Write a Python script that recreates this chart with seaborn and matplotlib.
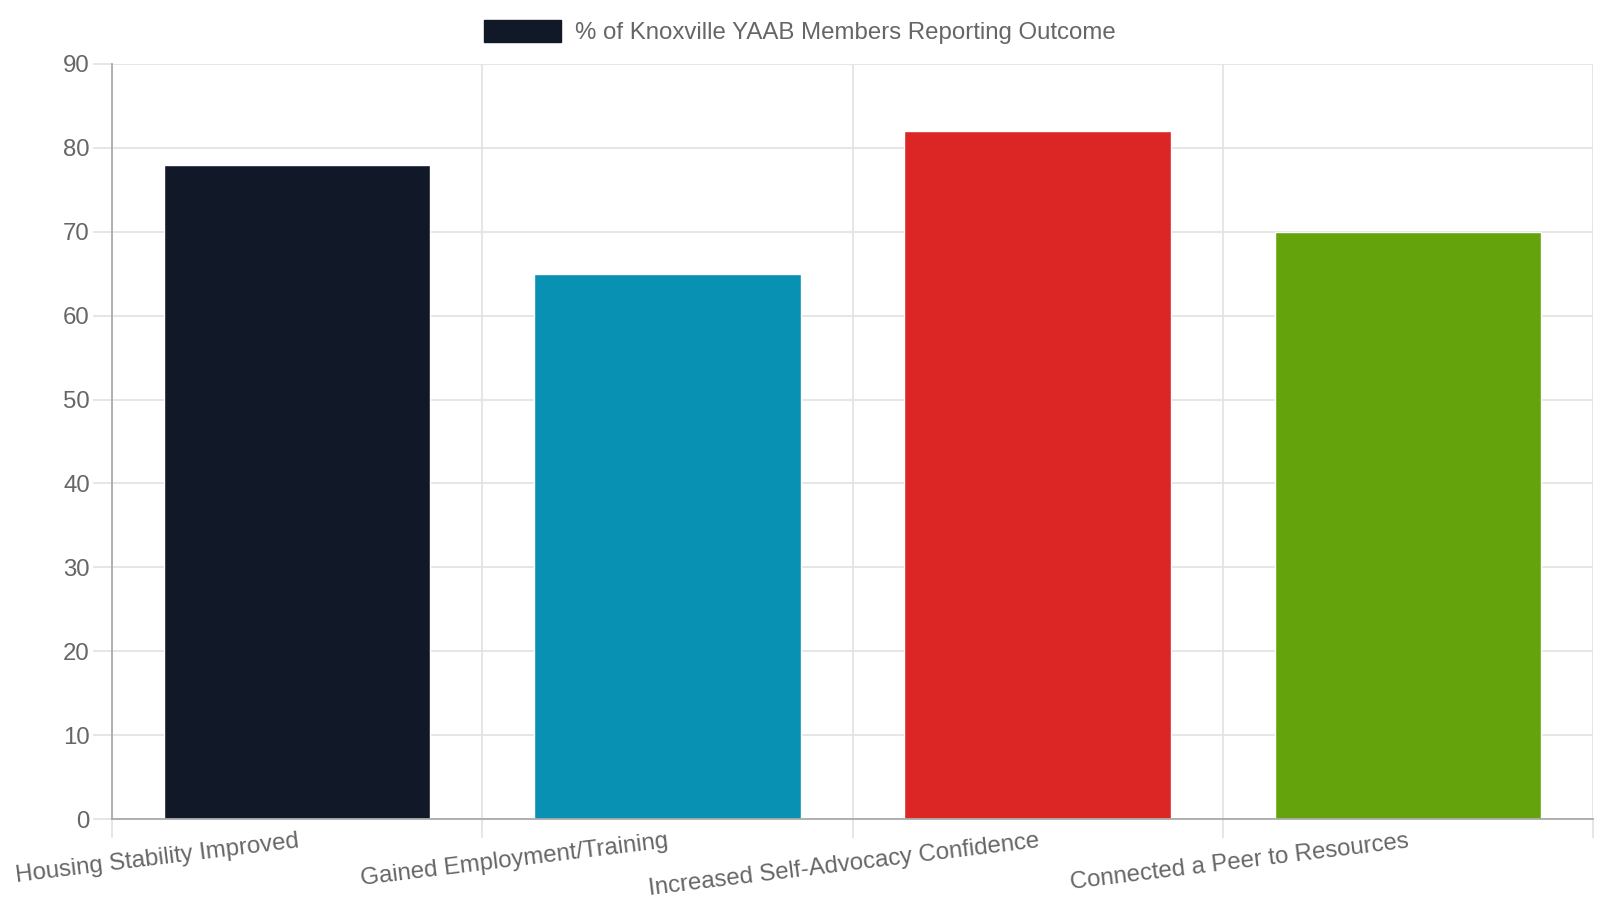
import numpy as np
import pandas as pd
import matplotlib.pyplot as plt
import seaborn as sns
from matplotlib.patches import Patch

categories = ["Housing Stability Improved", "Gained Employment/Training",
              "Increased Self-Advocacy Confidence", "Connected a Peer to Resources"]
values = [78, 65, 82, 70]
colors = ["#111827", "#0891b2", "#dc2626", "#65a30d"]
series_name = "% of Knoxville YAAB Members Reporting Outcome"

sns.set_style("white")
plt.rcParams['font.family'] = ['Liberation Sans', 'DejaVu Sans']

df = pd.DataFrame({"outcome": categories, "pct": values})

W, H = 1600, 900
left, right, top, bottom = 112, 1593, 64, 819
fig = plt.figure(figsize=(16, 9), dpi=100)
ax = fig.add_axes([left / W, 1 - bottom / H, (right - left) / W, (bottom - top) / H])

sns.barplot(data=df, x="outcome", y="pct", hue="outcome", palette=colors,
            width=0.72, saturation=1, legend=False, ax=ax)

ax.set_xlim(-0.5, 3.5)
ax.set_ylim(0, 90)
ax.set_yticks(np.arange(0, 91, 10))
ax.set_xlabel("")
ax.set_ylabel("")

txt = "#666666"
grid_c = "#e2e2e2"
ax.set_xticks(range(len(categories)))
ax.set_xticklabels(categories, rotation=7, ha="right", rotation_mode="anchor",
                   fontsize=17.3, color=txt)
ax.set_xticks(np.arange(-0.5, 4, 1), minor=True)
ax.tick_params(axis="x", which="major", bottom=False, length=0, pad=8)
ax.tick_params(axis="x", which="minor", bottom=True, length=14, color=grid_c, width=1.2)
ax.tick_params(axis="y", left=True, length=14, color=grid_c, width=1.2,
               labelsize=17.3, labelcolor=txt, pad=2)

ax.grid(axis="y", color=grid_c, linewidth=1.2)
ax.grid(axis="x", which="minor", color=grid_c, linewidth=1.2)
ax.set_axisbelow(True)

for s in ["top", "right"]:
    ax.spines[s].set_visible(False)
for s in ["left", "bottom"]:
    ax.spines[s].set_color("#aaaaaa")
    ax.spines[s].set_linewidth(1.3)

handle = Patch(facecolor=colors[0], edgecolor=colors[0])
fig.legend([handle], [series_name], loc="center", bbox_to_anchor=(0.5, 1 - 32 / H),
           frameon=False, fontsize=17.3, labelcolor=txt, handlelength=3.2, handleheight=1.0,
           handletextpad=0.6)

fig.savefig("out.png", dpi=100)
